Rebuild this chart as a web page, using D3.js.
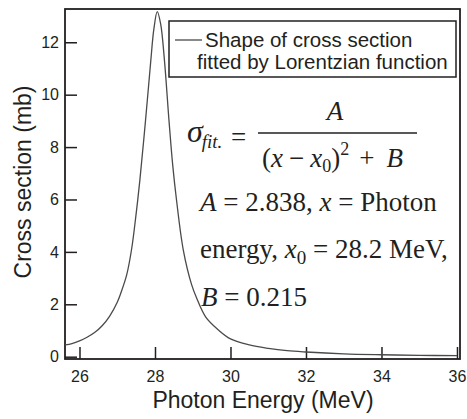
<!DOCTYPE html>
<html>
<head>
<meta charset="utf-8">
<script src="https://cdn.jsdelivr.net/npm/d3@7"></script>
<style>
  body { margin: 0; background: #fff; }
  svg { display: block; }
  text { fill: #231f20; }
</style>
</head>
<body>
<svg id="chart" width="467" height="419"></svg>
<script>
// ---- data ----
const energy = [25.62, 25.8, 26.0, 26.2, 26.4, 26.6, 26.8, 27.0, 27.1, 27.25, 27.38, 27.5, 27.6, 27.75, 27.89, 27.97, 28.06, 28.15, 28.25, 28.37, 28.47, 28.57, 28.75, 28.97, 29.1, 29.35, 29.68, 30.0, 30.5, 31.0, 31.5, 32.0, 33.0, 34.0, 35.0, 36.0];
const crossSection = [0.45, 0.5, 0.6, 0.74, 0.92, 1.18, 1.55, 2.08, 2.45, 3.12, 4.1, 5.45, 6.75, 9.03, 11.32, 12.5, 13.17, 12.7, 11.32, 9.03, 7.3, 5.98, 4.07, 2.75, 2.25, 1.5, 1.02, 0.68, 0.45, 0.32, 0.23, 0.18, 0.11, 0.075, 0.052, 0.04];
const xTicks = [26, 28, 30, 32, 34, 36];
const yTicks = [0, 2, 4, 6, 8, 10, 12];
const xTitle = "Photon Energy (MeV)";
const yTitle = "Cross section (mb)";
const legendLines = ["Shape of cross section", "fitted by Lorentzian function"];

const svg = d3.select("#chart");
const pL = 65, pR = 460, pT = 9, pB = 359;

const x = d3.scaleLinear().domain([25.616, 36.08]).range([pL, pR]);
const y = d3.scaleLinear().domain([-0.088, 13.27]).range([pB, pT]);

const sans = "'Liberation Sans', Arial, Helvetica, sans-serif";
const serif = "'Liberation Serif', 'Times New Roman', Times, serif";
const ink = "#231f20";

// axes
const yAxis = d3.axisLeft(y).tickValues(yTicks).tickSize(-12).tickPadding(6).tickFormat(d3.format("d"));
const gy = svg.append("g").attr("transform", `translate(${pL},0)`).call(yAxis);
gy.select(".domain").remove();
gy.selectAll("line").attr("stroke", ink).attr("stroke-width", 1.5);
gy.selectAll("text").attr("font-family", sans).attr("font-size", 16).attr("fill", ink);

const xAxis = d3.axisBottom(x).tickValues(xTicks).tickSize(-12).tickPadding(12).tickFormat(d3.format("d"));
const gx = svg.append("g").attr("transform", `translate(0,${pB})`).call(xAxis);
gx.select(".domain").remove();
gx.selectAll("line").attr("stroke", ink).attr("stroke-width", 1.5);
gx.selectAll("text").attr("font-family", sans).attr("font-size", 16).attr("fill", ink);

// frame
svg.append("rect").attr("x", pL).attr("y", pT).attr("width", pR - pL).attr("height", pB - pT)
  .attr("fill", "none").attr("stroke", ink).attr("stroke-width", 1.8);

// curve
const pts = energy.map((e, i) => [e, crossSection[i]]);
const line = d3.line().x(d => x(d[0])).y(d => y(d[1])).curve(d3.curveCatmullRom.alpha(0.5));
svg.append("path").attr("d", line(pts)).attr("fill", "none").attr("stroke", "#4a4a4a").attr("stroke-width", 1.3);

// axis titles
svg.append("text").attr("x", 263).attr("y", 408).attr("text-anchor", "middle")
  .attr("font-family", sans).attr("font-size", 23).text(xTitle);
svg.append("text").attr("transform", "translate(31,182) rotate(-90)").attr("text-anchor", "middle")
  .attr("font-family", sans).attr("font-size", 23).text(yTitle);

// legend
svg.append("rect").attr("x", 169).attr("y", 21).attr("width", 287).attr("height", 56)
  .attr("fill", "#fff").attr("stroke", ink).attr("stroke-width", 1.5);
svg.append("line").attr("x1", 175).attr("x2", 202).attr("y1", 40).attr("y2", 40)
  .attr("stroke", "#4a4a4a").attr("stroke-width", 1.3);
svg.append("text").attr("x", 205).attr("y", 47).attr("font-family", sans).attr("font-size", 20.5).text(legendLines[0]);
svg.append("text").attr("x", 197).attr("y", 69).attr("font-family", sans).attr("font-size", 20.5).text(legendLines[1]);

// formula
const f = svg.append("g").attr("font-family", serif);
const lhs = f.append("text").attr("x", 187).attr("y", 142);
lhs.append("tspan").attr("font-style", "italic").attr("font-size", 32).text("σ");
lhs.append("tspan").attr("font-style", "italic").attr("font-size", 19).attr("dy", 6).attr("dx", -1).text("fit.");
f.append("text").attr("x", 231).attr("y", 146).attr("font-size", 27).text("=");
f.append("text").attr("x", 335).attr("y", 120).attr("text-anchor", "middle").attr("font-style", "italic").attr("font-size", 27).text("A");
f.append("line").attr("x1", 258).attr("x2", 417).attr("y1", 133).attr("y2", 133).attr("stroke", ink).attr("stroke-width", 1.3);
const den = f.append("text").attr("x", 262).attr("y", 167).attr("font-size", 27);
den.append("tspan").text("(");
den.append("tspan").attr("font-style", "italic").text("x");
den.append("tspan").attr("dx", 6).text("−");
den.append("tspan").attr("dx", 6).attr("font-style", "italic").text("x");
den.append("tspan").attr("font-size", 18).attr("dy", 5).text("0");
den.append("tspan").attr("dy", -5).text(")");
den.append("tspan").attr("font-size", 18).attr("dy", -12).text("2");
den.append("tspan").attr("dy", 12).attr("dx", 10).text("+");
den.append("tspan").attr("dx", 12).attr("font-style", "italic").text("B");

const l1 = f.append("text").attr("x", 200).attr("y", 211).attr("font-size", 27);
l1.append("tspan").attr("font-style", "italic").text("A");
l1.append("tspan").text(" = 2.838, ");
l1.append("tspan").attr("font-style", "italic").text("x");
l1.append("tspan").text(" = Photon");

const l2 = f.append("text").attr("x", 200).attr("y", 258).attr("font-size", 27);
l2.append("tspan").text("energy, ");
l2.append("tspan").attr("font-style", "italic").text("x");
l2.append("tspan").attr("font-size", 19).attr("dy", 6).text("0");
l2.append("tspan").attr("dy", -6).text(" = 28.2 MeV,");

const l3 = f.append("text").attr("x", 201).attr("y", 306).attr("font-size", 27);
l3.append("tspan").attr("font-style", "italic").text("B");
l3.append("tspan").text(" = 0.215");
</script>
</body>
</html>
